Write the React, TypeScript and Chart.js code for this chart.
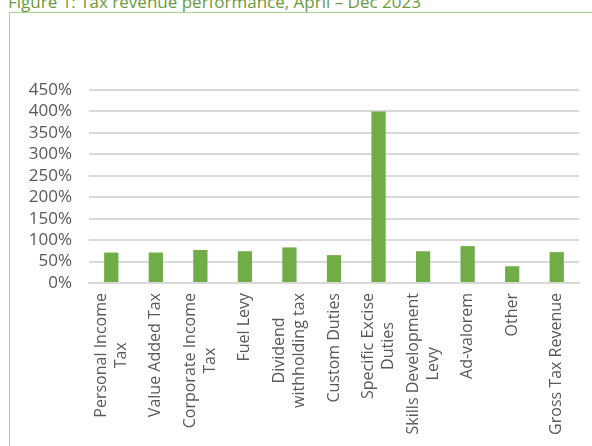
import React, { useEffect, useRef } from "react";
import { Chart, registerables } from "chart.js";

Chart.register(...registerables);

const categories: string[][] = [
  ["Personal Income", "Tax"],
  ["Value Added Tax"],
  ["Corporate Income", "Tax"],
  ["Fuel Levy"],
  ["Dividend", "withholding tax"],
  ["Custom Duties"],
  ["Specific Excise", "Duties"],
  ["Skills Development", "Levy"],
  ["Ad-valorem"],
  ["Other"],
  ["Gross Tax Revenue"],
];

const performance: number[] = [71, 71, 77, 74, 83, 65, 400, 74, 86, 39, 72];

const yMin = 0;
const yMax = 450;
const yStep = 50;

const titleText = "Figure 1: Tax revenue performance, April \u2013 Dec 2023";

const FONT = '"Open Sans", "DejaVu Sans", sans-serif';
const TEXT_COLOR = "#595959";

const xLabelPlugin = {
  id: "centeredRotatedXLabels",
  afterDraw(chart: any) {
    const scale = chart.scales.x;
    const labels: string[][] = chart.data.labels;
    const ctx: CanvasRenderingContext2D = chart.ctx;
    ctx.save();
    ctx.font = `16px ${FONT}`;
    ctx.fillStyle = TEXT_COLOR;
    ctx.textAlign = "center";
    ctx.textBaseline = "middle";
    const lh = 20;
    const top = scale.top + 10;
    labels.forEach((lines, i) => {
      const px = scale.getPixelForTick(i);
      const w = Math.max(...lines.map((l) => ctx.measureText(l).width));
      ctx.save();
      ctx.translate(px, top + w / 2);
      ctx.rotate(-Math.PI / 2);
      lines.forEach((l, j) => {
        ctx.fillText(l, 0, (j - (lines.length - 1) / 2) * lh);
      });
      ctx.restore();
    });
    ctx.restore();
  },
};

export default function App() {
  const canvasRef = useRef<HTMLCanvasElement | null>(null);

  useEffect(() => {
    if (!canvasRef.current) return;
    const chart = new Chart(canvasRef.current, {
      type: "bar",
      data: {
        labels: categories,
        datasets: [
          {
            data: performance,
            backgroundColor: "#70ad47",
            borderWidth: 0,
            barPercentage: 0.32,
            categoryPercentage: 1,
          },
        ],
      },
      options: {
        animation: false,
        responsive: false,
        devicePixelRatio: 1,
        layout: { padding: { left: 0, right: 13, top: 90, bottom: 0 } },
        plugins: {
          legend: { display: false },
          tooltip: { enabled: false },
          title: { display: false },
        },
        scales: {
          x: {
            grid: { display: false },
            border: { display: true, color: "#d9d9d9", width: 2 },
            ticks: { display: false },
            afterFit: (scale: any) => {
              scale.height = 163;
            },
          },
          y: {
            min: yMin,
            max: yMax,
            grid: { color: "#d9d9d9", lineWidth: 2, drawTicks: false },
            border: { display: false },
            ticks: {
              stepSize: yStep,
              autoSkip: false,
              padding: 17,
              color: TEXT_COLOR,
              font: { family: FONT, size: 17 },
              callback: (v: any) => `${v}%`,
            },
            afterFit: (scale: any) => {
              scale.width = 89;
            },
          },
        },
      },
      plugins: [xLabelPlugin],
    });
    return () => chart.destroy();
  }, []);

  return (
    <div
      style={{
        position: "absolute",
        left: 0,
        top: 0,
        width: 592,
        height: 446,
        overflow: "hidden",
        background: "#ffffff",
      }}
    >
      <div
        style={{
          position: "absolute",
          left: 8,
          top: -7,
          fontFamily: FONT,
          fontSize: 17,
          lineHeight: "17px",
          color: "#6a9a40",
          whiteSpace: "nowrap",
        }}
      >
        {titleText}
      </div>
      <div
        style={{
          position: "absolute",
          left: 9,
          top: 12,
          width: 620,
          height: 470,
          border: "1.5px solid #a9d18e",
          boxSizing: "border-box",
        }}
      />
      <canvas
        ref={canvasRef}
        width={592}
        height={446}
        style={{ position: "absolute", left: 0, top: 0, width: 592, height: 446 }}
      />
    </div>
  );
}
